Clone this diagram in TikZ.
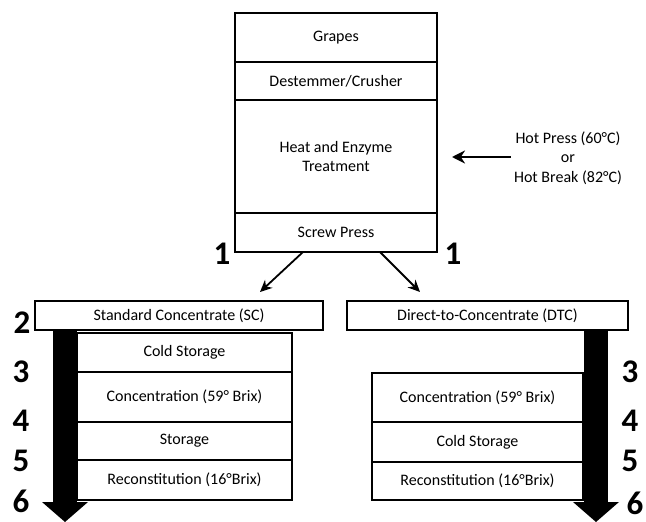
\documentclass[tikz,border=0pt]{standalone}
\usepackage{fontspec}
\setmainfont{Carlito}
\usetikzlibrary{arrows.meta,positioning}

\tikzset{
  stage/.style={draw, line width=2.4pt, outer sep=0pt, inner sep=0pt,
    align=center, minimum width=202pt, font=\fontsize{16}{19.5}\selectfont},
  substage/.style={draw, line width=1.8pt, outer sep=0pt, inner sep=0pt,
    align=center, font=\fontsize{16}{19.5}\selectfont},
  stepnum/.style={font=\fontsize{33}{33}\selectfont\bfseries},
  splitarrow/.style={line width=1.8pt, -{Stealth[length=12pt,width=11pt]}},
  flowarrow/.style={line width=24pt, -{Triangle[length=20pt,width=46pt,line width=0pt]}},
}

\begin{document}
\begin{tikzpicture}[x=1pt,y=-1pt]
    \useasboundingbox (0,0) rectangle (646,522);

    % main line
    \node[stage, minimum height=49pt] (grapes) at (336,37.5) {Grapes};
    \node[stage, minimum height=38pt, below=0pt of grapes] (crusher) {Destemmer/Crusher};
    \node[stage, minimum height=113pt, below=0pt of crusher] (heat) {Heat and Enzyme\\Treatment};
    \node[stage, minimum height=39pt, below=0pt of heat] (screw) {Screw Press};

    \node[font=\fontsize{16}{19.5}\selectfont, align=center] (hot) at (568,158)
      {Hot Press (60°C)\\or\\Hot Break (82°C)};
    \coordinate (heatin) at (452,157);
    \draw[line width=2.6pt, -{Stealth[length=13pt,width=13pt]}] (hot.west |- heatin) -- (heatin);

    % two branches
    \node[substage, minimum width=288pt, minimum height=29pt] (sc) at (179,315.5)
      {Standard Concentrate (SC)};
    \node[substage, minimum width=281pt, minimum height=29pt] (dtc) at (487.5,315.5)
      {Direct-to-Concentrate (DTC)};

    \draw[splitarrow] ([xshift=-33pt]screw.south) -- ([xshift=81pt,yshift=9pt]sc.north);
    \draw[splitarrow] ([xshift=44pt]screw.south) -- ([xshift=-67.5pt,yshift=9pt]dtc.north);

    % big flow arrows
    \coordinate (scend) at (65,522);
    \coordinate (dtcend) at (596,522);
    \draw[flowarrow] (sc.south -| scend) -- (scend);
    \draw[flowarrow] (dtc.south -| dtcend) -- (dtcend);

    % SC steps
    \node[substage, minimum width=215pt, minimum height=39pt] (sccold) at (184.5,352.5) {Cold Storage};
    \node[substage, minimum width=215pt, minimum height=50pt, below=0pt of sccold] (scconc) {Concentration (59° Brix)};
    \node[substage, minimum width=215pt, minimum height=38pt, below=0pt of scconc] (scstore) {Storage};
    \node[substage, minimum width=215pt, minimum height=40pt, below=0pt of scstore] (screcon) {Reconstitution (16°Brix)};

    % DTC steps
    \node[substage, minimum width=211pt, minimum height=49pt] (dtcconc) at (477.5,397.5) {Concentration (59° Brix)};
    \node[substage, minimum width=211pt, minimum height=40pt, below=0pt of dtcconc] (dtccold) {Cold Storage};
    \node[substage, minimum width=211pt, minimum height=38pt, below=0pt of dtccold] (dtcrecon) {Reconstitution (16°Brix)};

    % step numbers
    \node[stepnum] (n1a) at (222,254) {1};
    \node[stepnum] (n1b) at (453,254) {1};
    \node[stepnum] (n2a) at (22,323) {2};
    \node[stepnum] (n3a) at (21,372) {3};
    \node[stepnum] (n4a) at (21,421) {4};
    \node[stepnum] (n5a) at (21,461) {5};
    \node[stepnum] (n6a) at (21,501) {6};
    \node[stepnum] (n3b) at (630,372) {3};
    \node[stepnum] (n4b) at (630,421) {4};
    \node[stepnum] (n5b) at (630,461) {5};
    \node[stepnum] (n6b) at (635,503) {6};
\end{tikzpicture}
\end{document}
